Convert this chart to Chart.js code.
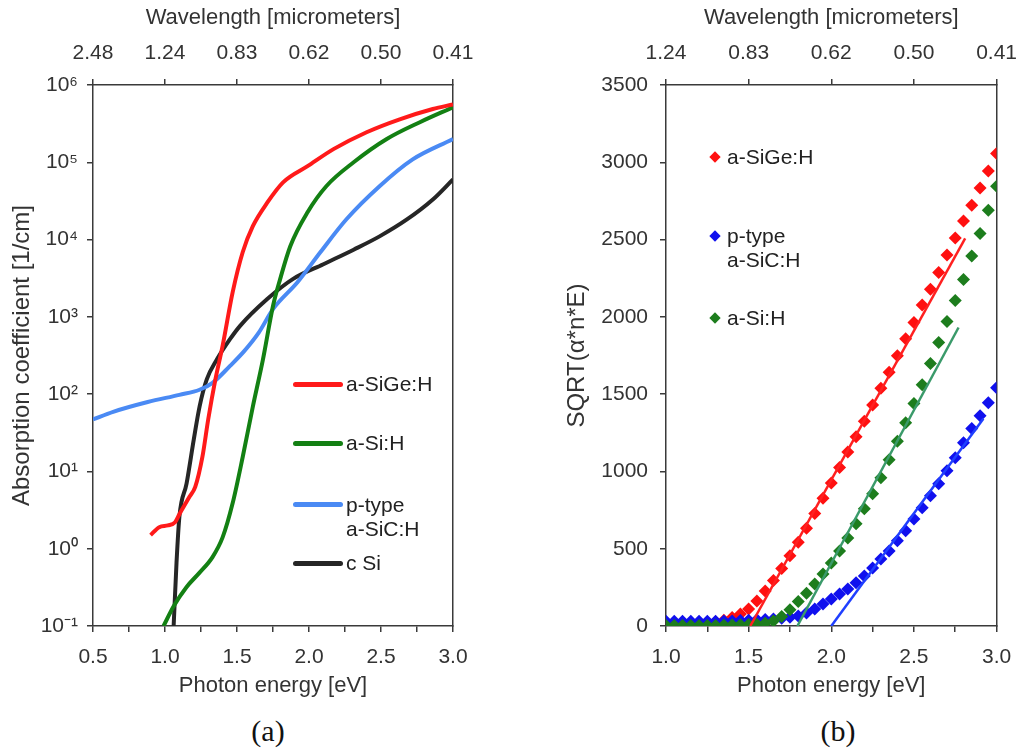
<!DOCTYPE html>
<html>
<head>
<meta charset="utf-8">
<script src="https://cdn.jsdelivr.net/npm/chart.js@4.4.0/dist/chart.umd.min.js"></script>
<style>
  html, body { margin: 0; padding: 0; background: #fff; }
  #wrap { position: relative; width: 1030px; height: 751px; overflow: hidden;
          font-family: 'Liberation Sans', Arial, sans-serif; color: #222; }
  canvas { position: absolute; top: 0; }
  .lg { position: absolute; font-size: 21px; line-height: 24px; white-space: nowrap; }
  .sw { position: absolute; height: 5px; border-radius: 3px; }
  .dm { position: absolute; width: 8px; height: 8px; transform: rotate(45deg); }
  .cap { position: absolute; font-family: 'Liberation Serif', 'Times New Roman', serif;
         font-size: 30px; line-height: 34px; transform: translateX(-50%); color: #111; }
</style>
</head>
<body>
<div id="wrap">
  <canvas id="chartA" width="520" height="700" style="left:0px"></canvas>
  <canvas id="chartB" width="490" height="700" style="left:540px"></canvas>

  <!-- legend (a) -->
  <div class="sw" style="left:293px;top:382px;width:50px;background:#ff1a1a"></div>
  <div class="lg" style="left:346px;top:372px">a-SiGe:H</div>
  <div class="sw" style="left:293px;top:441px;width:50px;background:#138013"></div>
  <div class="lg" style="left:346px;top:431px">a-Si:H</div>
  <div class="sw" style="left:293px;top:502px;width:50px;background:#4a8af4"></div>
  <div class="lg" style="left:346px;top:493px">p-type<br>a-SiC:H</div>
  <div class="sw" style="left:293px;top:561px;width:50px;background:#262626"></div>
  <div class="lg" style="left:346px;top:551px">c Si</div>

  <!-- legend (b) -->
  <div class="dm" style="left:711px;top:153px;background:#ff1010"></div>
  <div class="lg" style="left:727px;top:145px">a-SiGe:H</div>
  <div class="dm" style="left:711px;top:232px;background:#1010ee"></div>
  <div class="lg" style="left:727px;top:224px">p-type<br>a-SiC:H</div>
  <div class="dm" style="left:711px;top:314px;background:#1d7d1d"></div>
  <div class="lg" style="left:727px;top:306px">a-Si:H</div>

  <div class="cap" style="left:268px;top:714px">(a)</div>
  <div class="cap" style="left:838px;top:714px">(b)</div>
</div>

<script>
// ---- (a) absorption coefficient, photon energy in eV ----
const sigeE = [0.90, 0.96, 1.02, 1.07, 1.10, 1.17, 1.21, 1.26, 1.30, 1.35, 1.40, 1.47, 1.54, 1.61, 1.71, 1.82, 1.99, 2.17, 2.40, 2.63, 2.86, 3.00];
const sigeAlpha = [1.5, 1.9, 2.0, 2.2, 2.8, 4.7, 6.3, 15.5, 47, 155, 420, 2090, 6900, 14900, 30000, 55000, 89000, 148000, 245000, 360000, 490000, 560000];

const asiE = [0.99, 1.06, 1.15, 1.24, 1.33, 1.40, 1.47, 1.54, 1.61, 1.68, 1.75, 1.80, 1.87, 1.99, 2.12, 2.31, 2.54, 2.77, 3.00];
const asiAlpha = [0.1, 0.18, 0.32, 0.49, 0.78, 1.4, 3.9, 15.5, 69, 280, 1380, 3100, 8200, 22600, 49000, 100000, 200000, 330000, 515000];

const sicE = [0.50, 0.64, 0.88, 1.10, 1.24, 1.33, 1.45, 1.55, 1.65, 1.75, 1.92, 2.08, 2.26, 2.49, 2.72, 3.00];
const sicAlpha = [47, 59, 79, 98, 114, 140, 230, 360, 620, 1260, 2800, 6900, 18300, 49000, 109000, 200000];

const csiE = [1.06, 1.08, 1.10, 1.15, 1.20, 1.24, 1.29, 1.36, 1.45, 1.52, 1.71, 1.89, 2.10, 2.31, 2.49, 2.68, 2.86, 3.00];
const csiAlpha = [0.1, 0.66, 2.6, 7, 26, 69, 155, 280, 510, 760, 1700, 3100, 4800, 7400, 11000, 18200, 33000, 60000];

const logTicks = [0.1, 1, 10, 100, 1000, 10000, 100000, 1000000];
const logTickLabels = ['10\u207B\u00B9', '10\u2070', '10\u00B9', '10\u00B2', '10\u00B3', '10\u2074', '10\u2075', '10\u2076'];
const waveTicksA = [0.5, 1.0, 1.5, 2.0, 2.5, 3.0];
const waveLabelsA = ['2.48', '1.24', '0.83', '0.62', '0.50', '0.41'];

// ---- (b) SQRT(alpha*n*E) ----
const energyB = [1.00, 1.05, 1.10, 1.15, 1.20, 1.25, 1.30, 1.35, 1.40, 1.45, 1.50, 1.55, 1.60, 1.65, 1.70, 1.75, 1.80, 1.85, 1.90, 1.95,
                 2.00, 2.05, 2.10, 2.15, 2.20, 2.25, 2.30, 2.35, 2.40, 2.45, 2.50, 2.55, 2.60, 2.65, 2.70, 2.75, 2.80, 2.85, 2.90, 2.95, 3.00];
const sigeSqrt = [18, 18, 18, 18, 20, 22, 28, 38, 55, 78, 110, 162, 227, 295, 372, 455, 542, 632, 728, 826,
                  925, 1025, 1125, 1225, 1325, 1430, 1538, 1642, 1748, 1858, 1963, 2076, 2179, 2287, 2400, 2510, 2620, 2722, 2834, 2944, 3057];
const sicSqrt = [30, 30, 30, 30, 30, 30, 30, 32, 33, 35, 37, 40, 42, 45, 50, 56, 65, 84, 110, 143,
                 175, 207, 240, 279, 324, 376, 434, 486, 551, 616, 693, 765, 842, 920, 1004, 1089, 1186, 1277, 1361, 1445, 1542];
const asiSqrt = [3, 3, 3, 3, 3, 4, 4, 5, 6, 8, 10, 12, 18, 32, 62, 105, 158, 212, 272, 337,
                 408, 486, 570, 661, 758, 855, 959, 1075, 1195, 1315, 1440, 1560, 1698, 1834, 1970, 2106, 2242, 2393, 2540, 2689, 2845];

// Tauc fit lines: [start, end] points
const sigeFitE = [1.51, 2.81], sigeFitY = [0, 2508];
const asiFitE = [1.795, 2.77], asiFitY = [0, 1931];
const sicFitE = [2.0, 2.92], sicFitY = [0, 1341];

const waveTicksB = [1.0, 1.5, 2.0, 2.5, 3.0];
const waveLabelsB = ['1.24', '0.83', '0.62', '0.50', '0.41'];

Chart.defaults.font.family = "'Liberation Sans', Arial, sans-serif";
Chart.defaults.font.size = 21;
Chart.defaults.color = '#333';

const AXIS = '#3a3a3a';
const pts = (xs, ys) => xs.map((x, i) => ({ x: x, y: ys[i] }));
const tickMarks = () => ({ display: true, drawOnChartArea: false, drawTicks: true, tickLength: 6, color: AXIS, lineWidth: 1.5 });
const border = () => ({ display: true, color: AXIS, width: 1.5 });
const halfLabel = v => Math.abs(v * 2 - Math.round(v * 2)) < 1e-6 ? v.toFixed(1) : '';

function curve(label, xs, ys, color) {
    return { label: label, data: pts(xs, ys), borderColor: color, borderWidth: 4,
             pointRadius: 0, fill: false, cubicInterpolationMode: 'monotone' };
}

new Chart(document.getElementById('chartA'), {
    type: 'line',
    data: {
        datasets: [
            curve('a-SiGe:H', sigeE, sigeAlpha, '#ff1a1a'),
            curve('a-Si:H', asiE, asiAlpha, '#138013'),
            curve('p-type a-SiC:H', sicE, sicAlpha, '#4a8af4'),
            curve('c Si', csiE, csiAlpha, '#262626')
        ]
    },
    options: {
        responsive: false,
        animation: false,
        layout: { padding: 0 },
        plugins: { legend: { display: false }, tooltip: { enabled: false } },
        scales: {
            x: {
                type: 'linear', position: 'bottom', min: 0.5, max: 3.0,
                ticks: { stepSize: 0.25, padding: 13, autoSkip: false, maxRotation: 0, callback: halfLabel },
                grid: tickMarks(), border: border(),
                title: { display: true, text: 'Photon energy [eV]', font: { size: 22 }, padding: { top: 0, bottom: 1 } },
                afterFit: s => { s.height = 74; }
            },
            x2: {
                type: 'linear', position: 'top', min: 0.5, max: 3.0,
                afterBuildTicks: s => { s.ticks = waveTicksA.map(v => ({ value: v })); },
                ticks: { padding: 13, autoSkip: false, maxRotation: 0, callback: (v, i) => waveLabelsA[i] },
                grid: tickMarks(), border: border(),
                title: { display: true, text: 'Wavelength [micrometers]', font: { size: 22 }, padding: { top: 5, bottom: 0 } },
                afterFit: s => { s.height = 85; }
            },
            y: {
                type: 'logarithmic', position: 'left', min: 0.1, max: 1000000,
                afterBuildTicks: s => { s.ticks = logTicks.map(v => ({ value: v })); },
                ticks: { padding: 9, autoSkip: false, callback: (v, i) => logTickLabels[i] },
                grid: tickMarks(), border: border(),
                title: { display: true, text: 'Absorption coefficient [1/cm]', font: { size: 24 }, padding: { top: 8, bottom: 0 } },
                afterFit: s => { s.width = 93; }
            },
            yR: {
                type: 'linear', position: 'right', display: true,
                ticks: { display: false }, grid: { display: false }, border: border(),
                afterFit: s => { s.width = 67; }
            }
        }
    }
});

function markers(label, ys, color, order) {
    return { type: 'scatter', label: label, data: pts(energyB, ys), backgroundColor: color, borderWidth: 0,
             pointStyle: 'rectRot', pointRadius: 6.5, showLine: false, order: order };
}
function fitLine(xs, ys, color) {
    return { type: 'line', data: pts(xs, ys), borderColor: color, borderWidth: 2.5, pointRadius: 0, fill: false, order: 0 };
}

new Chart(document.getElementById('chartB'), {
    type: 'scatter',
    data: {
        datasets: [
            fitLine(sigeFitE, sigeFitY, '#ff2020'),
            fitLine(asiFitE, asiFitY, '#3a9a6a'),
            fitLine(sicFitE, sicFitY, '#1f3fff'),
            markers('a-Si:H', asiSqrt, '#1d7d1d', 1),
            markers('p-type a-SiC:H', sicSqrt, '#1010ee', 2),
            markers('a-SiGe:H', sigeSqrt, '#ff1010', 3)
        ]
    },
    options: {
        responsive: false,
        animation: false,
        layout: { padding: 0 },
        plugins: { legend: { display: false }, tooltip: { enabled: false } },
        scales: {
            x: {
                type: 'linear', position: 'bottom', min: 1.0, max: 3.0,
                ticks: { stepSize: 0.25, padding: 13, autoSkip: false, maxRotation: 0, callback: halfLabel },
                grid: tickMarks(), border: border(),
                title: { display: true, text: 'Photon energy [eV]', font: { size: 22 }, padding: { top: 0, bottom: 1 } },
                afterFit: s => { s.height = 74; }
            },
            x2: {
                type: 'linear', position: 'top', min: 1.0, max: 3.0,
                afterBuildTicks: s => { s.ticks = waveTicksB.map(v => ({ value: v })); },
                ticks: { padding: 13, autoSkip: false, maxRotation: 0, callback: (v, i) => waveLabelsB[i] },
                grid: tickMarks(), border: border(),
                title: { display: true, text: 'Wavelength [micrometers]', font: { size: 22 }, padding: { top: 5, bottom: 0 } },
                afterFit: s => { s.height = 85; }
            },
            y: {
                type: 'linear', position: 'left', min: 0, max: 3500,
                ticks: { stepSize: 500, padding: 12, autoSkip: false, callback: v => String(v) },
                grid: tickMarks(), border: border(),
                title: { display: true, text: 'SQRT(\u03B1*n*E)', font: { size: 24 }, padding: { top: 23, bottom: 0 } },
                afterFit: s => { s.width = 126; }
            },
            yR: {
                type: 'linear', position: 'right', display: true,
                ticks: { display: false }, grid: { display: false }, border: border(),
                afterFit: s => { s.width = 22; }
            }
        }
    }
});
</script>
</body>
</html>
